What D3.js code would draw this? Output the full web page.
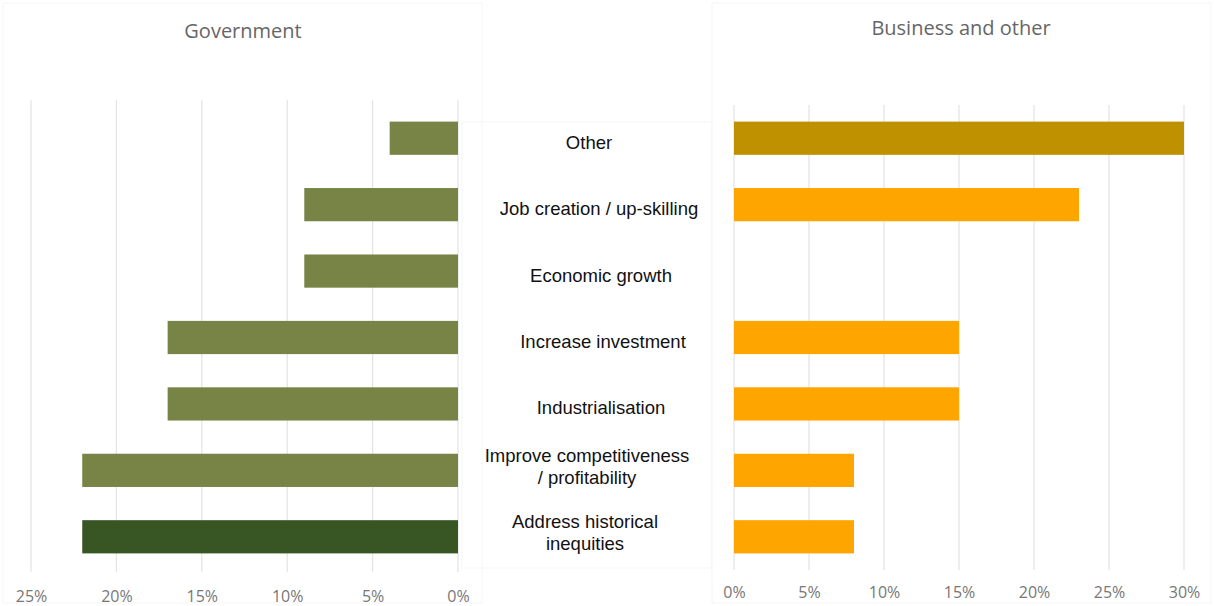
<!DOCTYPE html>
<html>
<head>
<meta charset="utf-8">
<script src="https://cdn.jsdelivr.net/npm/d3@7"></script>
<style>
  html, body { margin: 0; padding: 0; background: #ffffff; }
  svg { display: block; }
</style>
</head>
<body>
<svg id="chart" width="1214" height="606"></svg>
<script>
// Categories, top to bottom
const categories = [
  "Other",
  "Job creation / up-skilling",
  "Economic growth",
  "Increase investment",
  "Industrialisation",
  "Improve competitiveness / profitability",
  "Address historical inequities"
];
// Label lines for the centre column
const categoryLines = [
  ["Other"],
  ["Job creation / up-skilling"],
  ["Economic growth"],
  ["Increase investment"],
  ["Industrialisation"],
  ["Improve competitiveness", "/ profitability"],
  ["Address historical", "inequities"]
];
// Share of respondents (%)
const governmentValues = [4, 9, 9, 17, 17, 22, 22];
const businessValues = [30, 23, 0, 15, 15, 8, 8];
const governmentTicks = [0, 5, 10, 15, 20, 25];
const businessTicks = [0, 5, 10, 15, 20, 25, 30];
const panelTitles = ["Government", "Business and other"];

const svg = d3.select("#chart");

const govColor = (d, i) => i === categories.length - 1 ? "#375623" : "#778446";
const busColor = (d, i) => i === 0 ? "#BF9000" : "#FFA500";

// Faint chart-area outlines
const frames = [
  [3, 3, 479, 600],
  [712, 3, 499, 600],
  [462, 122, 250, 446]
];
svg.selectAll("rect.frame").data(frames).join("rect")
  .attr("class", "frame")
  .attr("x", d => d[0]).attr("y", d => d[1])
  .attr("width", d => d[2]).attr("height", d => d[3])
  .attr("fill", "none").attr("stroke", "#f5f5f5").attr("stroke-width", 1);

const y = d3.scaleBand().domain(categories).range([105, 570]).paddingInner(0.5).paddingOuter(0.25);

const tickFont = "'Open Sans', sans-serif";

// ---- Government (reversed axis) ----
const xG = d3.scaleLinear().domain([0, 25]).range([458, 31]);
const gG = svg.append("g");
gG.selectAll("line.grid").data(governmentTicks).join("line")
  .attr("x1", d => xG(d)).attr("x2", d => xG(d))
  .attr("y1", 100).attr("y2", 572)
  .attr("stroke", "#e3e3e3").attr("stroke-width", 1.2);
gG.selectAll("rect.bar").data(governmentValues).join("rect")
  .attr("x", d => xG(d))
  .attr("y", (d, i) => y(categories[i]))
  .attr("width", d => xG(0) - xG(d))
  .attr("height", y.bandwidth())
  .attr("fill", govColor);
const axG = d3.axisBottom(xG).tickValues(governmentTicks).tickFormat(d => d + "%").tickSize(0).tickPadding(0);
gG.append("g").attr("transform", "translate(0,602)").call(axG)
  .call(g => g.select(".domain").remove())
  .selectAll("text")
  .attr("font-family", tickFont).attr("font-size", 16)
  .attr("fill", "#777777").attr("dy", 0);

// ---- Business and other ----
const xB = d3.scaleLinear().domain([0, 30]).range([734, 1184]);
const gB = svg.append("g");
gB.selectAll("line.grid").data(businessTicks).join("line")
  .attr("x1", d => xB(d)).attr("x2", d => xB(d))
  .attr("y1", 105).attr("y2", 570)
  .attr("stroke", "#e3e3e3").attr("stroke-width", 1.2);
gB.selectAll("rect.bar").data(businessValues).join("rect")
  .attr("x", xB(0))
  .attr("y", (d, i) => y(categories[i]))
  .attr("width", d => xB(d) - xB(0))
  .attr("height", y.bandwidth())
  .attr("fill", busColor);
const axB = d3.axisBottom(xB).tickValues(businessTicks).tickFormat(d => d + "%").tickSize(0).tickPadding(0);
gB.append("g").attr("transform", "translate(0,598)").call(axB)
  .call(g => g.select(".domain").remove())
  .selectAll("text")
  .attr("font-family", tickFont).attr("font-size", 16)
  .attr("fill", "#777777").attr("dy", 0);

// ---- Panel titles ----
svg.selectAll("text.title").data(panelTitles).join("text")
  .attr("class", "title")
  .attr("x", (d, i) => i === 0 ? 243 : 961)
  .attr("y", (d, i) => i === 0 ? 38 : 35)
  .attr("text-anchor", "middle")
  .attr("font-family", "'Open Sans', sans-serif")
  .attr("font-size", 20)
  .attr("fill", "#666666")
  .text(d => d);

// ---- Category labels (centre column) ----
const labelX = [589, 599, 601, 603, 601, 587, 585];
const labelG = svg.append("g");
categoryLines.forEach((lines, i) => {
  const cy = y(categories[i]) + y.bandwidth() / 2 + (lines.length === 1 ? 4 : -4);
  const t = labelG.append("text")
    .attr("x", labelX[i])
    .attr("text-anchor", "middle")
    .attr("font-family", "'Liberation Sans', Arial, sans-serif")
    .attr("font-size", 18.5)
    .attr("fill", "#111111");
  lines.forEach((ln, j) => {
    t.append("tspan")
      .attr("x", labelX[i])
      .attr("y", cy + (j - (lines.length - 1) / 2) * 22)
      .attr("dy", "0.35em")
      .text(ln);
  });
});
</script>
</body>
</html>
